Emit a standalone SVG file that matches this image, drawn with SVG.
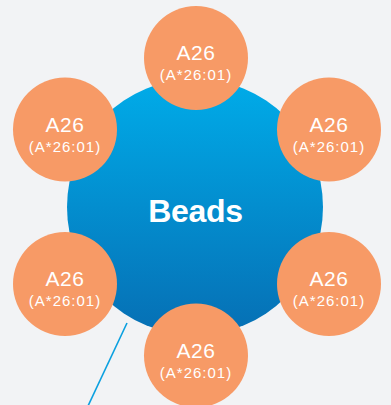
<svg xmlns="http://www.w3.org/2000/svg" width="391" height="405" viewBox="0 0 391 405">
<defs>
<linearGradient id="blue" x1="0" y1="0" x2="0" y2="1">
<stop offset="0" stop-color="#00ace9"/>
<stop offset="1" stop-color="#066fb4"/>
</linearGradient>
</defs>
<style>
.bead{fill:#f79a66}
.t1{font-family:"Liberation Sans",Arial,sans-serif;font-size:21px;fill:#fff;text-anchor:middle;letter-spacing:0.5px}
.t2{font-family:"Liberation Sans",Arial,sans-serif;font-size:15px;fill:#fff;text-anchor:middle;letter-spacing:1px}
</style>
<rect width="391" height="405" fill="#f2f3f5"/>
<g id="connectors">
<line x1="127" y1="323" x2="88" y2="406" stroke="#0aa0e0" stroke-width="1.6"/>
</g>
<g id="beads-core">
<circle cx="195" cy="207" r="128" fill="url(#blue)"/>
<text x="195.5" y="222" font-family="Liberation Sans,Arial,sans-serif" font-size="32" font-weight="bold" fill="#fff" text-anchor="middle" letter-spacing="-0.3">Beads</text>
</g>
<g id="bead-top">
<circle class="bead" cx="196" cy="58" r="52"/>
<text class="t1" x="196" y="60">A26</text>
<text class="t2" x="196" y="80">(A*26:01)</text>
</g>
<g id="bead-upper-left">
<circle class="bead" cx="65" cy="129.5" r="52"/>
<text class="t1" x="65" y="131.5">A26</text>
<text class="t2" x="65" y="151.5">(A*26:01)</text>
</g>
<g id="bead-upper-right">
<circle class="bead" cx="329" cy="129.5" r="52"/>
<text class="t1" x="329" y="131.5">A26</text>
<text class="t2" x="329" y="151.5">(A*26:01)</text>
</g>
<g id="bead-lower-left">
<circle class="bead" cx="65" cy="284" r="52"/>
<text class="t1" x="65" y="286">A26</text>
<text class="t2" x="65" y="306">(A*26:01)</text>
</g>
<g id="bead-lower-right">
<circle class="bead" cx="329" cy="284" r="52"/>
<text class="t1" x="329" y="286">A26</text>
<text class="t2" x="329" y="306">(A*26:01)</text>
</g>
<g id="bead-bottom">
<circle class="bead" cx="196" cy="355.5" r="52"/>
<text class="t1" x="196" y="357.5">A26</text>
<text class="t2" x="196" y="377.5">(A*26:01)</text>
</g>
</svg>
